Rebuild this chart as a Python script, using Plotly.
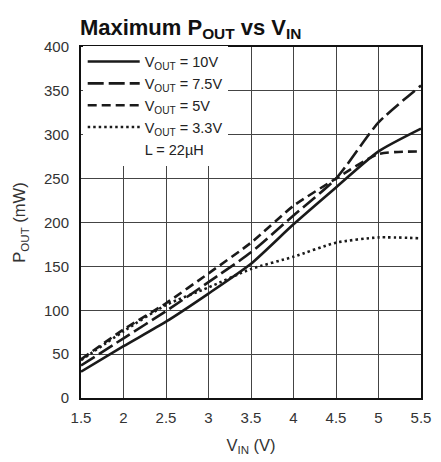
import plotly.graph_objects as go

vin = [1.5, 2.0, 2.5, 3.0, 3.5, 4.0, 4.5, 5.0, 5.5]
p_10v = [30, 59, 87, 119, 153, 198, 240, 281, 307]
p_7v5 = [37, 68, 99, 132, 166, 208, 250, 314, 356]
p_5v = [44, 78, 108, 142, 177, 219, 250, 278, 281]
p_3v3 = [43, 76, 106, 126, 147, 161, 177, 183, 182]

names = ["V<sub>OUT</sub> = 10V", "V<sub>OUT</sub> = 7.5V", "V<sub>OUT</sub> = 5V", "V<sub>OUT</sub> = 3.3V"]
note = "L = 22µH"
x_ticks = [1.5, 2, 2.5, 3, 3.5, 4, 4.5, 5, 5.5]
y_ticks = [0, 50, 100, 150, 200, 250, 300, 350, 400]

FONT = "Liberation Sans, Arial, sans-serif"

fig = go.Figure()
series = [p_10v, p_7v5, p_5v, p_3v3]
dashes = ["solid", "16px,5px", "9px,5px", "2.5px,3px"]
for name, ys, d in zip(names, series, dashes):
    fig.add_trace(go.Scatter(x=vin, y=ys, mode="lines", name=name,
                             line=dict(color="#1a1a1a", width=2.6, dash=d, shape="spline", smoothing=0.6)))
fig.add_trace(go.Scatter(x=[None], y=[None], mode="lines", name=note,
                         line=dict(color="rgba(0,0,0,0)", width=0)))

# the page body adds an 8px margin, so the figure is sized to fit the 441x462 window
fig.update_layout(
    width=433, height=454,
    margin=dict(l=71, r=10, t=39, b=63),
    paper_bgcolor="white", plot_bgcolor="white",
    font=dict(family=FONT, size=15, color="#333"),
    title=dict(text="<b>Maximum P<sub>OUT</sub> vs V<sub>IN</sub></b>",
               x=0.166, xref="container", xanchor="left", y=0.958, yanchor="middle",
               font=dict(family=FONT, size=22, color="#111")),
    showlegend=True,
    legend=dict(x=0.005, y=1.004, xanchor="left", yanchor="top",
                bgcolor="white", borderwidth=0, itemwidth=52,
                font=dict(family=FONT, size=14.5, color="#222"),
                tracegroupgap=0, itemclick=False),
)
fig.update_xaxes(range=[1.5, 5.5], tickvals=x_ticks, ticktext=[("%g" % v) for v in x_ticks],
                 tickfont=dict(family=FONT, size=15, color="#333"),
                 showgrid=True, gridcolor="#444", gridwidth=1.3,
                 showline=True, linecolor="#111", linewidth=2, mirror=True,
                 ticks="", zeroline=False, ticklabelstandoff=5,
                 title=dict(text="V<sub>IN</sub> (V)", standoff=14,
                            font=dict(family=FONT, size=16.5, color="#333")))
fig.update_yaxes(range=[0, 400], tickvals=y_ticks,
                 tickfont=dict(family=FONT, size=15, color="#333"),
                 showgrid=True, gridcolor="#444", gridwidth=1.3,
                 showline=True, linecolor="#111", linewidth=2, mirror=True,
                 ticks="", zeroline=False, ticklabelstandoff=7,
                 title=dict(text="P<sub>OUT</sub> (mW)", standoff=14,
                            font=dict(family=FONT, size=16.5, color="#333")))

fig.write_html("out.html")
